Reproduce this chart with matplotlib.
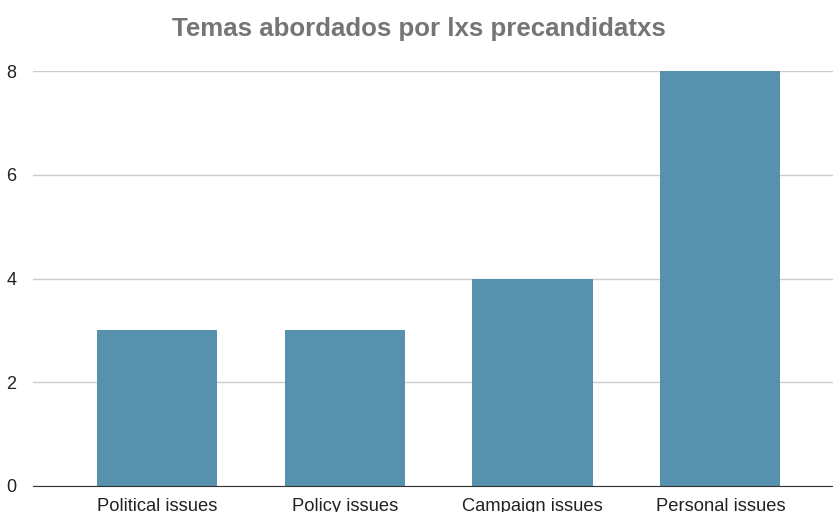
import matplotlib.pyplot as plt

# datos
temas = ["Political issues", "Policy issues", "Campaign issues", "Personal issues"]
valores = [3, 3, 4, 8]
yticks = [0, 2, 4, 6, 8]

plt.rcParams['font.family'] = ['Liberation Sans', 'DejaVu Sans']

fig = plt.figure(figsize=(8.33, 5.12), dpi=100)
ax = fig.add_axes([0.0396, 0.0508, 0.9604, 0.8105])

x = range(len(temas))
ax.bar(x, valores, width=0.64, color='#5891ad', zorder=3)

ax.set_xlim(-0.66, 3.6)
ax.set_ylim(0, 8)
ax.set_yticks(yticks)
ax.set_xticks(list(x))
ax.set_xticklabels(temas, fontsize=13.2, color='#222222')
ax.tick_params(axis='y', labelsize=13, length=0, pad=12)
ax.tick_params(axis='x', length=0, pad=9)
for lbl in ax.get_yticklabels():
    lbl.set_color('#222222')

ax.grid(axis='y', color='#cccccc', linewidth=1, zorder=0)
for s in ['top', 'right', 'left']:
    ax.spines[s].set_visible(False)
ax.spines['bottom'].set_color('#333333')
ax.spines['bottom'].set_zorder(4)

fig.text(0.503, 0.944, "Temas abordados por lxs precandidatxs", ha='center', va='center',
         fontsize=18.6, fontweight='bold', color='#757575')

fig.savefig("out.png", dpi=100)
